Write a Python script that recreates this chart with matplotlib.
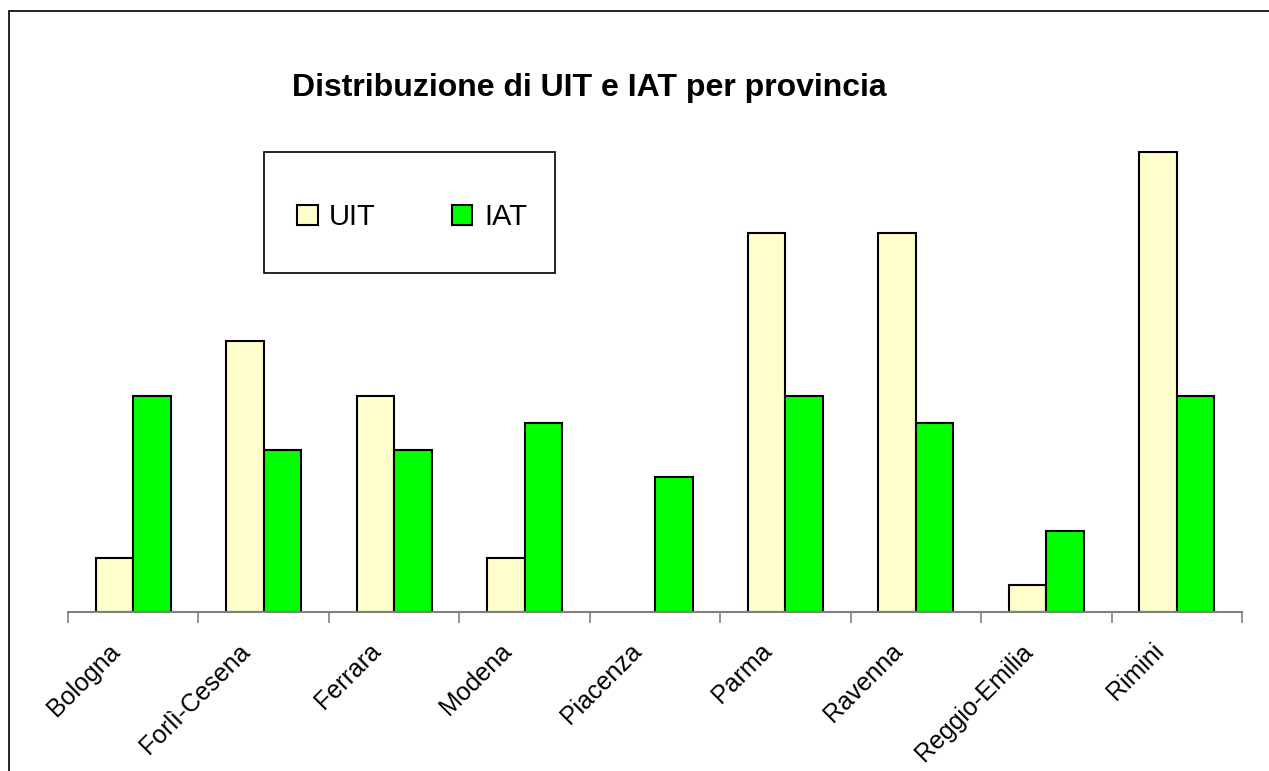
import numpy as np
import matplotlib
matplotlib.use("Agg")
import matplotlib.pyplot as plt
import matplotlib.transforms as mtransforms
from matplotlib.patches import Rectangle, Patch

plt.rcParams['font.family'] = ['Liberation Sans', 'DejaVu Sans']

# data
province = ['Bologna', 'Forlì-Cesena', 'Ferrara', 'Modena', 'Piacenza',
            'Parma', 'Ravenna', 'Reggio-Emilia', 'Rimini']
uit = [2, 10, 8, 2, 0, 14, 14, 1, 17]
iat = [8, 6, 6, 7, 5, 8, 7, 3, 8]

W, H = 1269, 771
fig = plt.figure(figsize=(W / 100, H / 100), dpi=100)

# outer chart frame (only left and top visible)
fig.add_artist(Rectangle((9 / W, -0.1), 1.2, 1 - 11 / H + 0.1, transform=fig.transFigure,
                         fill=False, edgecolor='black', linewidth=1.2))

# axes placed in pixel coords
x0, x1 = 68, 1242
ybase = 612
unit = 27.06
ymax = 18
ytop = ybase - ymax * unit
ax = fig.add_axes([x0 / W, 1 - ybase / H, (x1 - x0) / W, (ybase - ytop) / H])

x = np.arange(len(province))
bw = 0.2875
edge_u = ['black' if v > 0 else 'none' for v in uit]
edge_i = ['black' if v > 0 else 'none' for v in iat]
ax.bar(x - bw / 2, uit, bw, color='#FFFFCC', edgecolor=edge_u, linewidth=1.5, label='UIT', zorder=3)
ax.bar(x + bw / 2, iat, bw, color='#00FF00', edgecolor=edge_i, linewidth=1.5, label='IAT', zorder=3)

ax.set_xlim(-0.5, len(province) - 0.5)
ax.set_ylim(0, ymax)
for s in ['top', 'right', 'left']:
    ax.spines[s].set_visible(False)
ax.spines['bottom'].set_color('#808080')
ax.spines['bottom'].set_linewidth(1.5)
ax.spines['bottom'].set_zorder(4)
ax.set_yticks([])

ax.set_xticks(np.arange(len(province) + 1) - 0.5, minor=True)
ax.set_xticks(x)
ax.tick_params(axis='x', which='minor', length=8, width=1.2, color='#808080', direction='out')
ax.tick_params(axis='x', which='major', length=0, pad=22)
ax.set_xticklabels(province, rotation=45, ha='right', va='center', rotation_mode='anchor',
                   fontsize=18)
shift = mtransforms.ScaledTranslation(-17 / 100, -5 / 100, fig.dpi_scale_trans)
for lab in ax.get_xticklabels():
    lab.set_transform(lab.get_transform() + shift)

fig.text(589 / W, 1 - 88 / H, 'Distribuzione di UIT e IAT per provincia',
         ha='center', va='center', fontsize=23, fontweight='bold')

# legend box
fig.add_artist(Rectangle((264 / W, 1 - 273 / H), (555 - 264) / W, (273 - 152) / H,
                         transform=fig.transFigure, fill=True, facecolor='white',
                         edgecolor='black', linewidth=1.2, zorder=4))
handles = [Patch(facecolor='#FFFFCC', edgecolor='black', linewidth=1.5, label='UIT'),
           Patch(facecolor='#00FF00', edgecolor='black', linewidth=1.5, label='IAT')]
leg = fig.legend(handles=handles, loc='center', bbox_to_anchor=(412 / W, 1 - 217 / H),
                 ncol=2, frameon=False, fontsize=21, handlelength=0.7, handleheight=0.7,
                 handletextpad=0.4, columnspacing=2.6)
leg.set_zorder(5)

fig.savefig('out.png', dpi=100)
